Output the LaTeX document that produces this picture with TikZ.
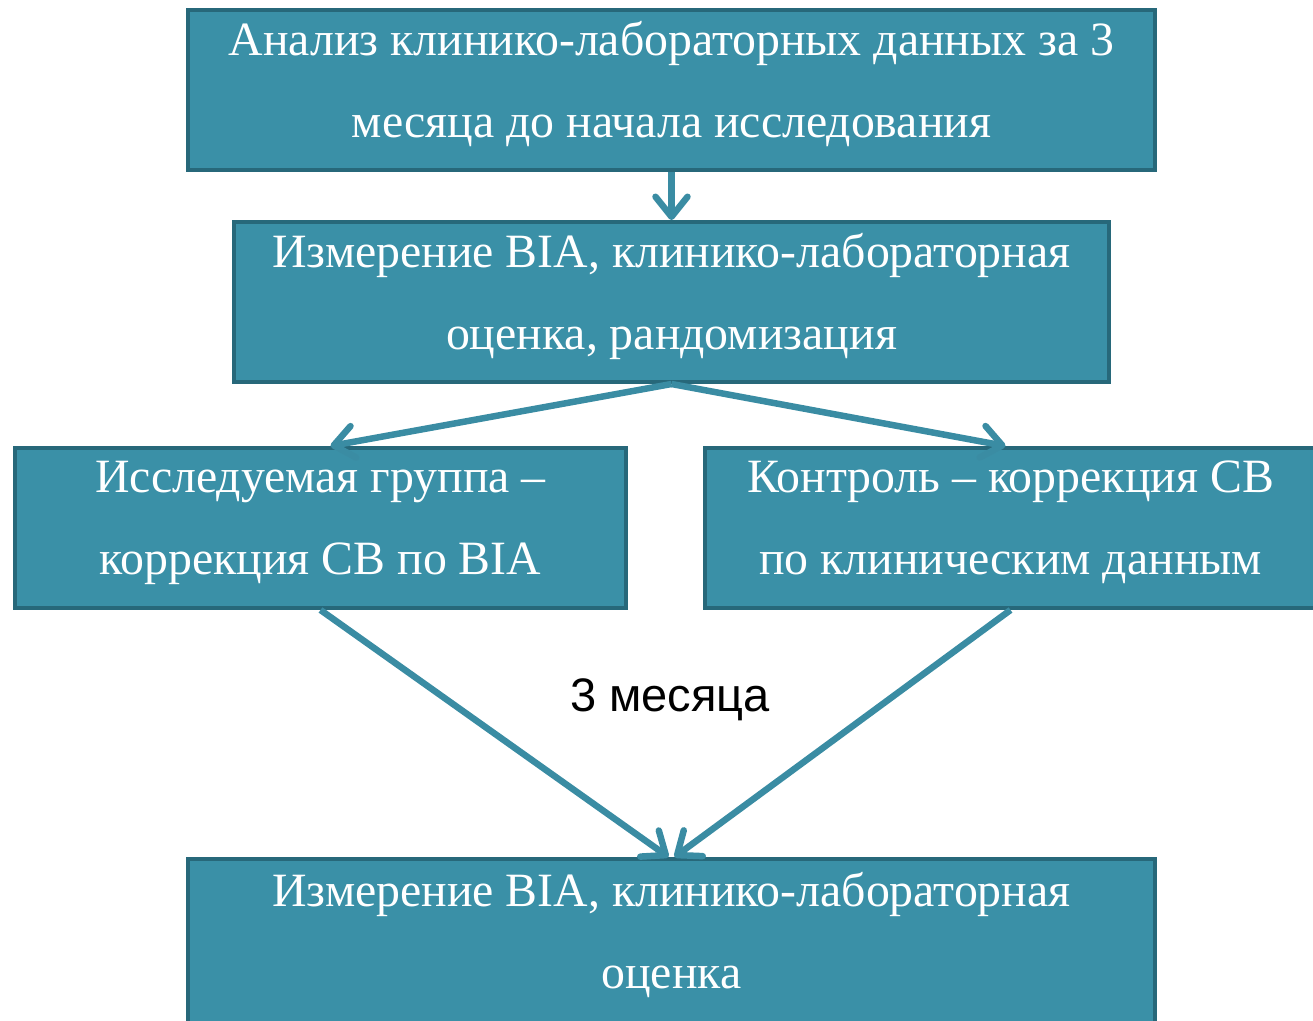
\documentclass[tikz,border=0pt]{standalone}
\usepackage{fontspec}
\setmainfont{Liberation Serif}
\newfontfamily\armfont{Liberation Sans}
\usetikzlibrary{arrows.meta}
\definecolor{boxfill}{HTML}{3A90A7}
\definecolor{boxedge}{HTML}{27687A}
\definecolor{arrcol}{HTML}{3A8CA3}
\tikzset{
  flowbox/.style={draw=boxedge, line width=4pt, fill=boxfill, text=white,
    inner sep=0pt, minimum height=160pt, align=center, text depth=21pt,
    font=\fontsize{47.8}{82}\selectfont},
  flowarrow/.style={draw=arrcol, line width=6.5pt,
    -{Straight Barb[round,length=20pt,width=32pt,line width=6.5pt]}}
}
\begin{document}
\begin{tikzpicture}[x=1pt,y=1pt]
\useasboundingbox (0,0) rectangle (1313,-1020);
\node[flowbox, minimum width=967pt] (b1) at (671.5,-90)
  {Анализ клинико-лабораторных данных за 3\\месяца до начала исследования};
\node[flowbox, minimum width=875pt] (b2) at (671.5,-302)
  {Измерение BIA, клинико-лабораторная\\оценка, рандомизация};
\node[flowbox, minimum width=611pt] (b3) at (320.5,-528)
  {Исследуемая группа –\\коррекция СВ по BIA};
\node[flowbox, minimum width=611pt] (b4) at (1010.5,-528)
  {Контроль – коррекция СВ\\по клиническим данным};
\node[flowbox, minimum width=967pt, minimum height=180pt, text depth=37pt] (b5) at (671.5,-949)
  {Измерение BIA, клинико-лабораторная\\оценка};
\node[font=\armfont\fontsize{47}{56}\selectfont, text=black] (lbl) at (670,-700) {3 месяца};
\draw[flowarrow] (b1.south) -- (b2.north);
\draw[flowarrow] (b2.south) -- ([xshift=10pt]b3.north);
\draw[flowarrow] (b2.south) -- ([xshift=-5pt]b4.north);
\draw[flowarrow] (b3.south) -- ([xshift=-3pt]b5.north);
\draw[flowarrow] (b4.south) -- ([xshift=3pt]b5.north);
\end{tikzpicture}
\end{document}
